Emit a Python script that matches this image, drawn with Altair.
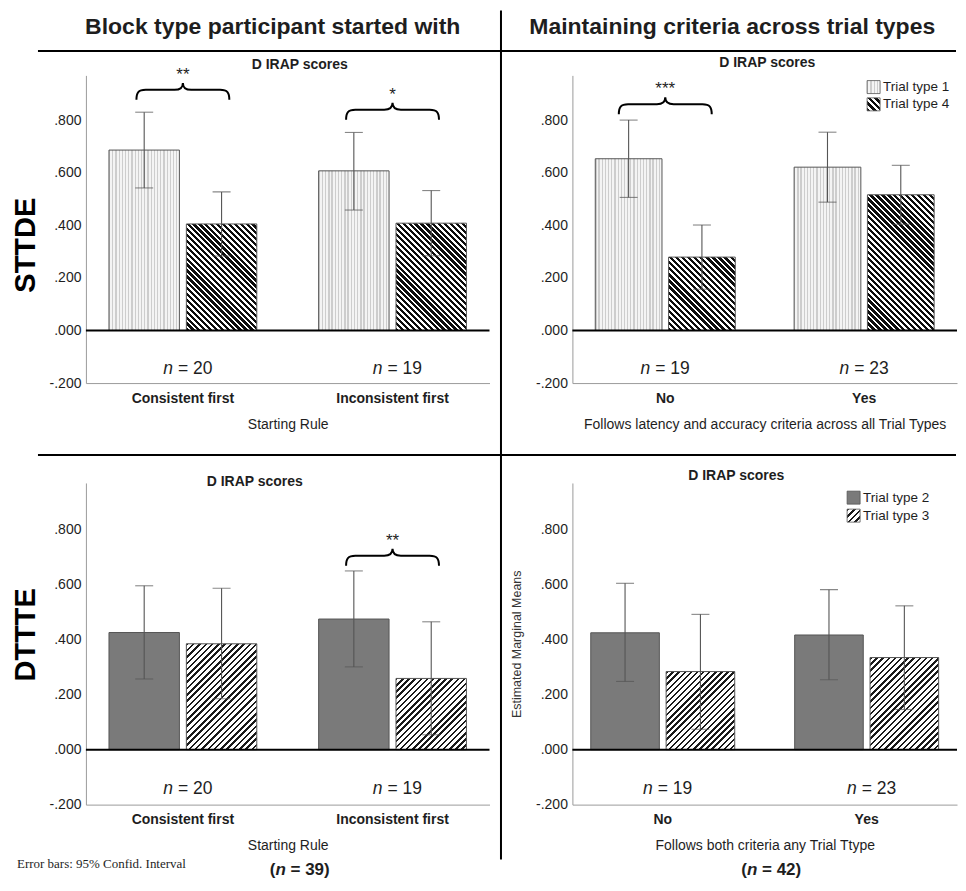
import altair as alt

# ---------------- data ----------------
# Top-left: STTDE by starting block
a_groups = ["Consistent first", "Inconsistent first"]
a_types = ["Trial type 1", "Trial type 4"]
a_mean = [[0.686, 0.405], [0.607, 0.408]]
a_low = [[0.542, 0.283], [0.458, 0.284]]
a_high = [[0.830, 0.527], [0.753, 0.532]]
a_n = [20, 19]
a_brace_groups = ["Consistent first", "Inconsistent first"]
a_brace_level = [0.915, 0.839]
a_brace_stars = ["**", "*"]

# Top-right: STTDE by criteria
b_groups = ["No", "Yes"]
b_types = ["Trial type 1", "Trial type 4"]
b_mean = [[0.653, 0.279], [0.621, 0.516]]
b_low = [[0.506, 0.157], [0.488, 0.404]]
b_high = [[0.800, 0.401], [0.754, 0.628]]
b_n = [19, 23]
b_brace_groups = ["No"]
b_brace_level = [0.86]
b_brace_stars = ["***"]

# Bottom-left: DTTTE by starting block
c_groups = ["Consistent first", "Inconsistent first"]
c_types = ["Trial type 2", "Trial type 3"]
c_mean = [[0.426, 0.385], [0.475, 0.259]]
c_low = [[0.257, 0.185], [0.301, 0.054]]
c_high = [[0.596, 0.587], [0.650, 0.465]]
c_n = [20, 19]
c_brace_groups = ["Inconsistent first"]
c_brace_level = [0.705]
c_brace_stars = ["**"]

# Bottom-right: DTTTE by criteria
d_groups = ["No", "Yes"]
d_types = ["Trial type 2", "Trial type 3"]
d_mean = [[0.425, 0.284], [0.417, 0.335]]
d_low = [[0.248, 0.074], [0.254, 0.146]]
d_high = [[0.605, 0.492], [0.582, 0.523]]
d_n = [19, 23]

Y_TICKS = [-0.2, 0.0, 0.2, 0.4, 0.6, 0.8]

# ---------------- styling ----------------
Y_MIN, Y_MAX = -0.2, 0.97
LEFT_W, RIGHT_W = 404, 385
TOP_H, BOT_H = 308, 322
OFF_PAD = 0.09
INK = "#1e1e1e"
AXIS_GRAY = "#9b9b9b"
FONT = "Liberation Sans"
BRACE = ("M -1 0.215 C -1 0.06 -0.96 0 -0.8 0 L -0.18 0 C -0.06 0 0 -0.04 0 -0.15 "
         "C 0 -0.04 0.06 0 0.18 0 L 0.8 0 C 0.96 0 1 0.06 1 0.215")


def stripes(w, h, direction, period, frac, ink, paper="#ffffff"):
    if direction == "|":
        L = w
    else:
        L = w + h
    n = max(1, int(round(L / period)))
    stops = []
    for i in range(n):
        a = round(i / n, 5)
        b = round((i + frac) / n, 5)
        c = round((i + 1) / n, 5)
        stops += [{"offset": a, "color": ink}, {"offset": b, "color": ink},
                  {"offset": b, "color": paper}, {"offset": c, "color": paper}]
    if direction == "|":
        return {"gradient": "linear", "x1": 0, "y1": 0, "x2": 1, "y2": 0, "stops": stops}
    k = L / (w * w + h * h)
    gx, gy = w * k, h * k
    if direction == "/":
        x1, y1, x2, y2 = 0, 0, gx, gy
    else:
        x1, y1, x2, y2 = 0, 1, gx, 1 - gy
    return {"gradient": "linear", "x1": x1, "y1": y1,
            "x2": round(x2, 5), "y2": round(y2, 5), "stops": stops}


PATTERNS = {"Trial type 1": "dots", "Trial type 4": "back",
            "Trial type 2": "checker", "Trial type 3": "fwd"}


def fill_for(t, w, h):
    kind = PATTERNS[t]
    if kind == "dots":
        return stripes(w, h, "|", 3.2, 0.4, "#cdcdcd", "#f4f4f4")
    if kind == "checker":
        return "#7a7a7a"
    if kind == "back":
        return stripes(w, h, "\\", 6.0, 0.55, "#0d0d0d")
    return stripes(w, h, "/", 6.2, 0.40, "#1a1a1a")


ONE = alt.Data(values=[{}])


def txt(x, y, text, size=14, weight="normal", style="normal", align="center",
        font=FONT, angle=0, color=INK):
    return alt.Chart(ONE).mark_text(
        text=text, fontSize=size, fontWeight=weight, fontStyle=style, align=align,
        font=font, angle=angle, color=color, baseline="middle"
    ).encode(x=alt.value(x), y=alt.value(y))


def hline(x1, x2, y, width=2, color="black"):
    return alt.Chart(ONE).mark_rule(color=color, strokeWidth=width).encode(
        x=alt.value(x1), x2=alt.value(x2), y=alt.value(y))


def vline(x, y1, y2, width=2, color="black"):
    return alt.Chart(ONE).mark_rule(color=color, strokeWidth=width).encode(
        x=alt.value(x), y=alt.value(y1), y2=alt.value(y2))


def legend(types, x0, y0, gap):
    layers = []
    for i, t in enumerate(types):
        yc = y0 + i * gap
        layers.append(alt.Chart(ONE).mark_rect(
            fill=fill_for(t, 13, 13), stroke="#555", strokeWidth=0.8
        ).encode(x=alt.value(x0), x2=alt.value(x0 + 13),
                 y=alt.value(yc - 6.5), y2=alt.value(yc + 6.5)))
        layers.append(txt(x0 + 16, yc, t, size=13.5, align="left"))
    return layers


LABEL_EXPR = "(datum.value < 0 ? '-' : '') + substring(format(abs(datum.value), '.3f'), 1)"


def panel(groups, types, mean, low, high, ns, W, H, pin, pout, x_title, y_title,
          title_xy, n_dx, brace_groups, brace_level, brace_stars, extra):
    unit = H / (Y_MAX - Y_MIN)
    step = W / (len(groups) - pin + 2 * pout)
    band = step * (1 - pin)
    bar_w = band / (len(types) - OFF_PAD) * (1 - OFF_PAD)

    recs = []
    for gi, g in enumerate(groups):
        for ti, t in enumerate(types):
            m = mean[gi][ti]
            recs.append({"group": g, "type": t, "mean": m,
                         "low": low[gi][ti], "high": high[gi][ti],
                         "fill": fill_for(t, bar_w, m * unit)})
    data = alt.Data(values=recs)

    yscale = alt.Scale(domain=[Y_MIN, Y_MAX], nice=False, zero=False)
    xenc = alt.X("group:N", sort=groups,
                 scale=alt.Scale(paddingInner=pin, paddingOuter=pout),
                 axis=alt.Axis(title=x_title, labelAngle=0, ticks=False,
                               labelFontWeight="bold", labelFontSize=14, labelPadding=8,
                               labelColor=INK, titleFontSize=14, titleFontWeight="normal",
                               titleColor=INK, titlePadding=12, domainColor=AXIS_GRAY))
    xoff = alt.XOffset("type:N", sort=types,
                       scale=alt.Scale(paddingInner=OFF_PAD, paddingOuter=0))
    yaxis = alt.Axis(values=Y_TICKS, labelExpr=LABEL_EXPR,
                     ticks=False, grid=False, domainColor=AXIS_GRAY, labelFontSize=14,
                     labelPadding=5, labelColor=INK, title=y_title, titleFontSize=12.5,
                     titleFontWeight="normal", titleColor="#333", titlePadding=12)

    def yq(field):
        return alt.Y(field, scale=yscale, axis=yaxis)

    def yd(v):
        return alt.datum(v, scale=yscale, axis=yaxis)

    base = alt.Chart(data)
    bars = base.mark_bar(stroke="#555", strokeWidth=1, width=bar_w).encode(
        x=xenc, xOffset=xoff, y=yq("mean:Q"), y2=alt.datum(0),
        fill=alt.Fill("fill:N", scale=None))
    zero = alt.Chart(ONE).mark_rule(color="black", strokeWidth=2).encode(y=yd(0))
    err = base.mark_rule(color="#555", strokeWidth=1.1).encode(
        x=xenc, xOffset=xoff, y=yq("low:Q"), y2="high:Q")
    cap_hi = base.mark_tick(orient="horizontal", size=18, thickness=1.1, color="#555").encode(
        x=xenc, xOffset=xoff, y=yq("high:Q"))
    cap_lo = base.mark_tick(orient="horizontal", size=18, thickness=1.1, color="#555").encode(
        x=xenc, xOffset=xoff, y=yq("low:Q"))

    ndata = alt.Data(values=[{"group": g, "nlab": "= %d" % n} for g, n in zip(groups, ns)])
    n_it = alt.Chart(ndata).mark_text(text="n", fontStyle="italic", fontSize=17.5,
                                      align="right", dx=n_dx, color=INK).encode(
        x=xenc, y=yd(-0.145))
    n_val = alt.Chart(ndata).mark_text(fontSize=17.5, align="left", dx=n_dx + 5,
                                       color=INK).encode(
        x=xenc, y=yd(-0.145), text="nlab:N")

    layers = [bars, zero, err, cap_hi, cap_lo, n_it, n_val]

    if brace_groups:
        bdata = alt.Data(values=[{"group": g, "level": lv, "stars": s}
                                 for g, lv, s in zip(brace_groups, brace_level, brace_stars)])
        layers.append(alt.Chart(bdata).mark_point(
            shape=BRACE, size=8649, filled=False, stroke="black", strokeWidth=2,
            opacity=1).encode(x=xenc, y=yq("level:Q")))
        layers.append(alt.Chart(bdata).mark_text(fontSize=17, dy=-15, color=INK).encode(
            x=xenc, y=yq("level:Q"), text="stars:N"))

    layers.append(txt(title_xy[0], title_xy[1], "D IRAP scores", size=14, weight="bold"))
    layers += extra
    return alt.layer(*layers).properties(width=W, height=H)


# decorations, relative to top-left plot origin (page 86, 75)
def rx(px):
    return px - 86


def ry(py):
    return py - 75


deco = [
    alt.Chart(ONE).mark_rule(color="white", strokeWidth=0).encode(
        x=alt.value(-78), y=alt.value(-67), y2=alt.value(-60)),
    vline(rx(501.5), -65, ry(860)),
    hline(rx(38), rx(957), ry(50.5)),
    hline(rx(38), rx(957), ry(455)),
    txt(rx(273), ry(27), "Block type participant started with", size=23, weight="bold"),
    txt(rx(733), ry(27), "Maintaining criteria across trial types", size=23, weight="bold"),
    txt(rx(26.5), ry(245), "STTDE", size=29, weight="bold", angle=270, color="black"),
    txt(rx(26.5), ry(635), "DTTTE", size=29, weight="bold", angle=270, color="black"),
    txt(rx(17), ry(864), "Error bars: 95% Confid. Interval", size=13, align="left",
        font="Liberation Serif"),
    txt(rx(275.7), ry(870), "(", size=17, weight="bold", align="right"),
    txt(rx(275.7), ry(870), "n", size=17, weight="bold", style="italic", align="left"),
    txt(rx(290.8), ry(870), "= 39)", size=17, weight="bold", align="left"),
    txt(rx(747.7), ry(870), "(", size=17, weight="bold", align="right"),
    txt(rx(747.7), ry(870), "n", size=17, weight="bold", style="italic", align="left"),
    txt(rx(762.8), ry(870), "= 42)", size=17, weight="bold", align="left"),
]

p1 = panel(a_groups, a_types, a_mean, a_low, a_high, a_n, LEFT_W, TOP_H, 0.295, 0.11,
           "Starting Rule", None, (214, -10), -10,
           a_brace_groups, a_brace_level, a_brace_stars, deco)
p2 = panel(b_groups, b_types, b_mean, b_low, b_high, b_n, RIGHT_W, TOP_H, 0.296, 0.115,
           "Follows latency and accuracy criteria across all Trial Types", None, (195, -12), -15,
           b_brace_groups, b_brace_level, b_brace_stars,
           legend(b_types, 295, 11.7, 17.3))
p3 = panel(c_groups, c_types, c_mean, c_low, c_high, c_n, LEFT_W, BOT_H, 0.295, 0.11,
           "Starting Rule", None, (169, -1), -10,
           c_brace_groups, c_brace_level, c_brace_stars, [])
p4 = panel(d_groups, d_types, d_mean, d_low, d_high, d_n, RIGHT_W, BOT_H, 0.294, 0.09,
           "Follows both criteria any Trial Ttype", "Estimated Marginal Means", (164, -7), -10,
           [], [], [], legend(d_types, 275, 14.7, 18))

chart = alt.concat(
    p1, p2, p3, p4, columns=2, spacing={"row": 100, "column": 83},
    bounds="flush", align="each"
).resolve_scale(
    x="independent", y="independent", xOffset="independent"
).properties(padding=0, background="white").configure(
    font=FONT
).configure_view(strokeWidth=0)

chart.save("out.html", embed_options={"renderer": "svg", "actions": False})
